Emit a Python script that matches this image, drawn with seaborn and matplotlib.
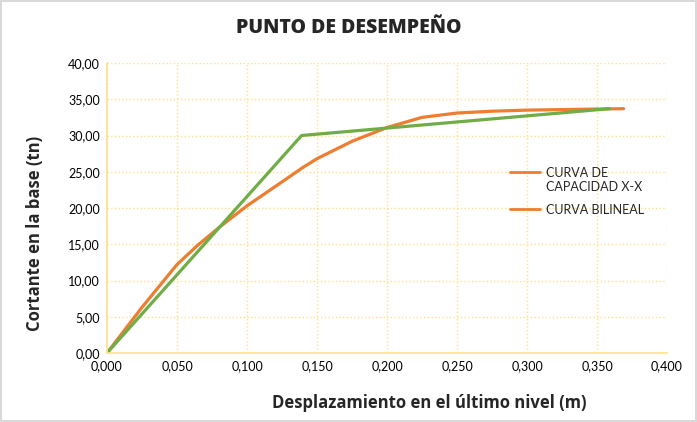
import matplotlib
matplotlib.use("Agg")
import matplotlib.pyplot as plt
import matplotlib.ticker as mticker
import seaborn as sns
import pandas as pd

# Capacity curve (X-X) and its bilinear idealisation
cap_x = [0.000, 0.025, 0.050, 0.065, 0.080, 0.100, 0.125, 0.140, 0.150, 0.175,
         0.200, 0.225, 0.250, 0.275, 0.300, 0.350, 0.369]
cap_y = [0.00, 6.30, 12.20, 14.90, 17.30, 20.30, 23.60, 25.60, 26.80, 29.20,
         31.10, 32.50, 33.10, 33.35, 33.50, 33.65, 33.70]
bil_x = [0.000, 0.139, 0.359]
bil_y = [0.00, 30.00, 33.70]

series_names = ["CURVA DE\nCAPACIDAD X-X", "CURVA BILINEAL"]
title = "PUNTO DE DESEMPEÑO"
xlabel = "Desplazamiento en el último nivel (m)"
ylabel = "Cortante en la base (tn)"

ORANGE = "#ED7D31"
GREEN = "#70AD47"
GRID = "#FFE08A"

sns.set_style("white")
plt.rcParams["font.family"] = ["Lato", "DejaVu Sans"]

df_cap = pd.DataFrame({"x": cap_x, "y": cap_y})
df_bil = pd.DataFrame({"x": bil_x, "y": bil_y})

fig = plt.figure(figsize=(6.97, 4.22), dpi=100)
fig.patch.set_edgecolor("#D9D9D9")
fig.patch.set_linewidth(1.5)
ax = fig.add_axes([107 / 697, 1 - 353 / 422, 560 / 697, 290 / 422])

sns.lineplot(data=df_cap, x="x", y="y", ax=ax, color=ORANGE, lw=2.3,
             label=series_names[0], sort=False)
sns.lineplot(data=df_bil, x="x", y="y", ax=ax, color=GREEN, lw=2.3,
             label=series_names[1], sort=False)

ax.set_xlim(0, 0.4)
ax.set_ylim(0, 40)
ax.xaxis.set_major_locator(mticker.MultipleLocator(0.05))
ax.yaxis.set_major_locator(mticker.MultipleLocator(5))
ax.xaxis.set_major_formatter(mticker.FuncFormatter(lambda v, p: f"{v:.3f}".replace(".", ",")))
ax.yaxis.set_major_formatter(mticker.FuncFormatter(lambda v, p: f"{v:.2f}".replace(".", ",")))
ax.tick_params(axis="both", labelsize=9, length=0, pad=5, colors="#000000")

ax.grid(True, color=GRID, linestyle=":", linewidth=1.0)
for side in ["top", "right"]:
    ax.spines[side].set_visible(False)
for side in ["left", "bottom"]:
    ax.spines[side].set_color(GRID)
    ax.spines[side].set_linewidth(1.2)

label_font = {"family": ["Open Sans", "DejaVu Sans"], "weight": "bold", "size": 12}
ax.set_xlabel(xlabel, fontdict=label_font)
ax.set_ylabel(ylabel, fontdict=label_font)
ax.xaxis.set_label_coords(0.575, -0.14)
ax.yaxis.set_label_coords(-0.112, 0.414)
fig.text(0.5, 1 - 28 / 422, title, ha="center", va="center", fontsize=14,
         fontweight="heavy", family=["Open Sans", "DejaVu Sans"])

# Both legend entries shown with the orange swatch
leg = ax.legend(loc="upper left", bbox_to_anchor=(0.70, 0.68), frameon=False,
                fontsize=9, handlelength=2.4, handletextpad=0.5, labelspacing=0.85)
for i, h in enumerate(leg.get_lines()):
    h.set_color(ORANGE)
    h.set_linewidth(2)
    if i == 0:
        # align the swatch with the first line of the two-line label
        yd = h.get_ydata()
        h.set_ydata([y + 6 for y in yd])

fig.savefig("out.png", dpi=100)
